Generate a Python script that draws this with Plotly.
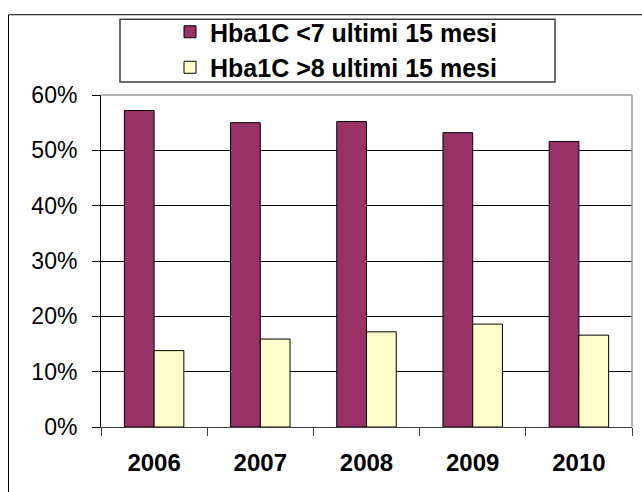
import plotly.graph_objects as go

# Data
years = ["2006", "2007", "2008", "2009", "2010"]
below7 = [57.2, 55.0, 55.2, 53.2, 51.6]      # % Hba1C <7 in last 15 months
above8 = [13.8, 15.9, 17.2, 18.6, 16.6]      # % Hba1C >8 in last 15 months
series_names = ["Hba1C <7 ultimi 15 mesi", "Hba1C >8 ultimi 15 mesi"]
y_ticks = [0, 10, 20, 30, 40, 50, 60]
y_tick_text = ["0%", "10%", "20%", "30%", "40%", "50%", "60%"]

W, H = 642, 492
ML, MR, MT, MB = 101, 10, 94, 65
PW, PH = W - ML - MR, H - MT - MB


def px_x(px):
    return (px - ML) / PW


def px_y(py):
    return (H - MB - py) / PH


FONT = "Arial, Liberation Sans, sans-serif"

fig = go.Figure()
fig.add_trace(go.Bar(
    x=years, y=below7, name=series_names[0],
    marker=dict(color="#993366", line=dict(color="#000000", width=1)),
    legendgroup="a",
))
fig.add_trace(go.Bar(
    x=years, y=above8, name=series_names[1],
    marker=dict(color="#FFFFCC", line=dict(color="#000000", width=1)),
    legendgroup="b",
))

shapes = [
    # outer chart frame
    dict(type="rect", xref="paper", yref="paper",
         x0=px_x(8.5), x1=px_x(660), y0=px_y(520), y1=px_y(13.5),
         line=dict(color="#000000", width=1), layer="above"),
    # plot area border (top and right)
    dict(type="line", xref="paper", yref="paper",
         x0=0, x1=1, y0=1, y1=1, line=dict(color="#999999", width=1.5)),
    dict(type="line", xref="paper", yref="paper",
         x0=1, x1=1, y0=0, y1=1, line=dict(color="#999999", width=1.5)),
    # legend frame
    dict(type="rect", xref="paper", yref="paper",
         x0=px_x(120), x1=px_x(555), y0=px_y(81), y1=px_y(18),
         line=dict(color="#404040", width=1.5), fillcolor="white", layer="below"),
]

fig.update_layout(
    width=W, height=H,
    margin=dict(l=ML, r=MR, t=MT, b=MB),
    paper_bgcolor="white", plot_bgcolor="white",
    barmode="group", bargap=0.44, bargroupgap=0,
    font=dict(family=FONT, color="#000000"),
    showlegend=True,
    legend=dict(
        x=px_x(170), y=px_y(9), xanchor="left", yanchor="top",
        bgcolor="rgba(0,0,0,0)", borderwidth=0,
        font=dict(family=FONT, size=25, color="#000000", weight="bold"),
        tracegroupgap=0,
    ),
    shapes=shapes,
    xaxis=dict(
        type="category",
        showline=True, linecolor="#404040", linewidth=1,
        ticks="outside", tickson="boundaries", ticklen=8,
        tickcolor="#404040", tickwidth=1,
        tickfont=dict(family=FONT, size=24, color="#000000", weight="bold"),
        ticklabelstandoff=14,
        showgrid=False,
    ),
    yaxis=dict(
        range=[0, 60],
        tickvals=y_ticks, ticktext=y_tick_text,
        showline=True, linecolor="#000000", linewidth=1,
        ticks="outside", ticklen=8, tickcolor="#000000", tickwidth=1,
        tickfont=dict(family=FONT, size=23, color="#000000"),
        ticklabelstandoff=10,
        showgrid=True, gridcolor="#000000", gridwidth=1,
        zeroline=False,
    ),
)

fig.write_html("out.html")
